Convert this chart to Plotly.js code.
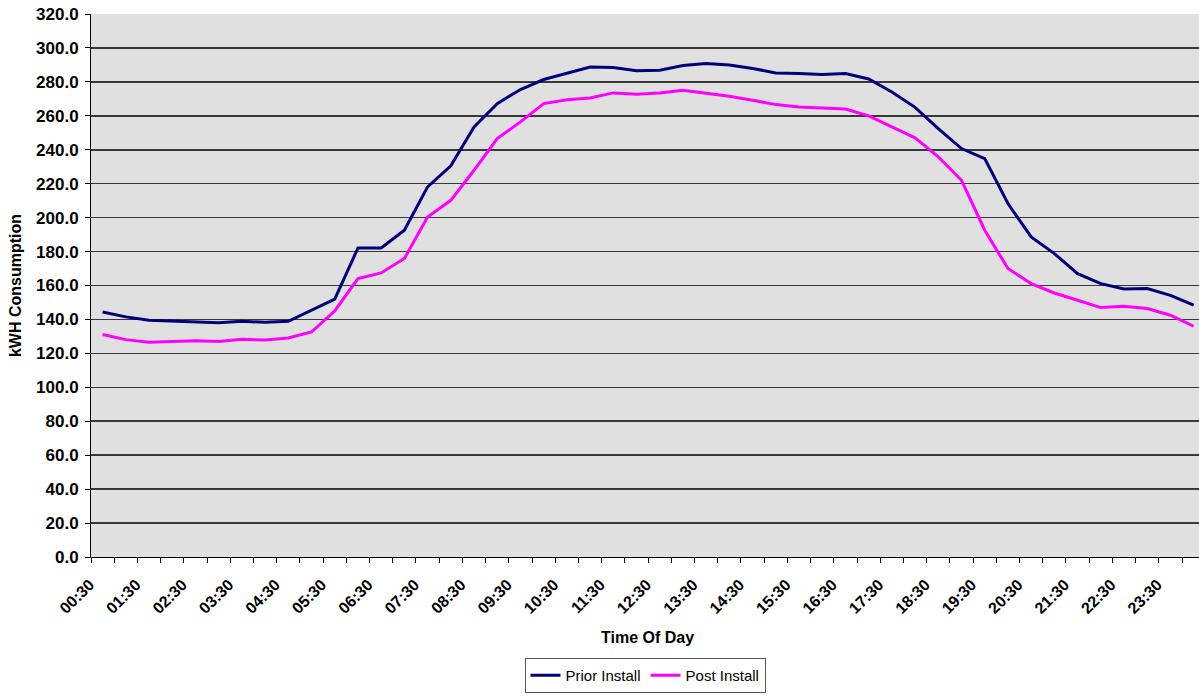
<!DOCTYPE html>
<html><head><meta charset="utf-8">
<script src="https://cdn.plot.ly/plotly-3.0.1.min.js"></script>
<style>html,body{margin:0;padding:0;background:#fff}</style>
</head><body>
<div id="chart" style="width:1199px;height:696px"></div>
<script>
const timeLabels = ["00:30","01:00","01:30","02:00","02:30","03:00","03:30","04:00","04:30","05:00","05:30","06:00",
  "06:30","07:00","07:30","08:00","08:30","09:00","09:30","10:00","10:30","11:00","11:30","12:00",
  "12:30","13:00","13:30","14:00","14:30","15:00","15:30","16:00","16:30","17:00","17:30","18:00",
  "18:30","19:00","19:30","20:00","20:30","21:00","21:30","22:00","22:30","23:00","23:30","24:00"];
const priorInstall = [144.4,141.5,139.5,139.1,138.5,138.0,138.9,138.3,138.9,145.4,152.0,182.1,
  182.1,192.6,218.1,230.5,253.4,267.2,275.5,281.4,285.3,288.8,288.4,286.5,
  286.9,289.6,290.8,290.0,287.9,285.3,284.9,284.3,284.9,281.7,274.0,265.0,
  252.5,240.7,234.8,208.3,188.6,178.8,167.0,161.1,158.0,158.2,154.2,148.4];
const postInstall = [131.1,128.1,126.5,127.0,127.5,127.0,128.3,127.9,129.1,132.6,145.0,164.1,
  167.4,175.9,200.4,210.2,227.9,246.6,256.4,267.2,269.4,270.5,273.5,272.7,
  273.5,275.1,273.5,271.5,269.2,266.6,265.2,264.5,264.0,260.0,253.5,247.0,
  235.8,222.0,192.6,170.0,161.1,155.6,151.3,147.0,147.8,146.4,142.5,136.0];
const seriesNames = ["Prior Install", "Post Install"];
const yTicks = [0,20,40,60,80,100,120,140,160,180,200,220,240,260,280,300,320];

const idx = timeLabels.map((_, i) => i);
const shownIdx = idx.filter(i => i % 2 === 0);
const shownText = shownIdx.map(i => timeLabels[i]);

const boldFont = {family: "Liberation Sans, Arial, sans-serif", color: "#000", weight: "bold"};

const traces = [
  {x: idx, y: priorInstall, type: "scatter", mode: "lines", name: seriesNames[0],
   line: {color: "#00007a", width: 3}},
  {x: idx, y: postInstall, type: "scatter", mode: "lines", name: seriesNames[1],
   line: {color: "#ff00ff", width: 3}}
];

const layout = {
  width: 1199, height: 696,
  paper_bgcolor: "#ffffff",
  plot_bgcolor: "#e0e0e0",
  margin: {l: 91, r: 0, t: 14, b: 139, autoexpand: false},
  showlegend: true,
  legend: {orientation: "h", x: 0.5, xanchor: "center", y: -0.186, yanchor: "top",
    bordercolor: "#555", borderwidth: 1, bgcolor: "#fff",
    font: {family: "Liberation Sans, Arial, sans-serif", size: 15, color: "#000"},
    itemwidth: 30, tracegroupgap: 0},
  xaxis: {
    range: [-0.5, 47.23], tickmode: "array", tickvals: shownIdx, ticktext: shownText,
    tickangle: -45, ticks: "", showgrid: false, zeroline: false,
    showline: true, linecolor: "#000", linewidth: 1,
    ticklabelshift: -13, ticklabelstandoff: 11,
    tickfont: Object.assign({size: 16}, boldFont),
    minor: {tick0: -0.5, dtick: 1, ticks: "outside", ticklen: 5, tickcolor: "#000", showgrid: false}
  },
  yaxis: {
    range: [0, 320], tickmode: "array", tickvals: yTicks, tickformat: ".1f",
    ticks: "outside", ticklen: 5, tickcolor: "#000",
    ticklabelstandoff: 3,
    showline: true, linecolor: "#000", linewidth: 1,
    showgrid: true, gridcolor: "#383838", gridwidth: 1.6, zeroline: false,
    tickfont: Object.assign({size: 17}, boldFont),
    title: {text: "kWH Consumption", font: Object.assign({size: 16}, boldFont), standoff: 10}
  },
  annotations: [
    {text: "Time Of Day", xref: "paper", yref: "paper", x: 0.502, y: -0.149,
     xanchor: "center", yanchor: "middle", showarrow: false,
     font: Object.assign({size: 16}, boldFont)}
  ]
};

Plotly.newPlot("chart", traces, layout, {displayModeBar: false, staticPlot: true});
</script>
</body></html>
